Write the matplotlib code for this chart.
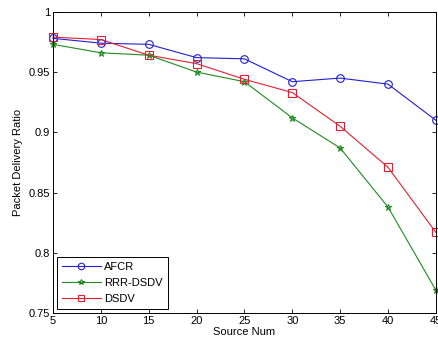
import matplotlib
matplotlib.use("Agg")
import matplotlib.pyplot as plt

plt.rcParams['font.family'] = ['Liberation Sans', 'DejaVu Sans']

source_num = [5, 10, 15, 20, 25, 30, 35, 40, 45]
afcr = [0.978, 0.974, 0.973, 0.962, 0.961, 0.942, 0.945, 0.940, 0.910]
rrr_dsdv = [0.973, 0.966, 0.964, 0.950, 0.942, 0.912, 0.887, 0.838, 0.769]
dsdv = [0.979, 0.977, 0.964, 0.957, 0.944, 0.933, 0.905, 0.871, 0.817]
xticks = [5, 10, 15, 20, 25, 30, 35, 40, 45]
yticks = [0.75, 0.8, 0.85, 0.9, 0.95, 1.0]
yticklabels = ['0.75', '0.8', '0.85', '0.9', '0.95', '1']

fig = plt.figure(figsize=(4.38, 3.43), dpi=100)
ax = fig.add_axes([0.121, 0.0875, 0.874, 0.878])

ax.plot(source_num, afcr, color='#2020d0', marker='o', markersize=5.5,
        markerfacecolor='none', linewidth=0.8, markeredgewidth=0.8, label='AFCR', clip_on=False)
ax.plot(source_num, rrr_dsdv, color='#208a20', marker='*', markersize=5,
        markerfacecolor='none', linewidth=0.8, markeredgewidth=0.8, label='RRR-DSDV', clip_on=False)
ax.plot(source_num, dsdv, color='#e02030', marker='s', markersize=5.5,
        markerfacecolor='none', linewidth=0.8, markeredgewidth=0.8, label='DSDV', clip_on=False)

ax.set_xlim(5, 45)
ax.set_ylim(0.75, 1.0)
ax.set_xticks(xticks)
ax.set_yticks(yticks)
ax.set_yticklabels(yticklabels)
ax.tick_params(direction='in', top=True, right=True, labelsize=8, length=3, width=0.6, pad=2)
for s in ax.spines.values():
    s.set_linewidth(0.7)
ax.set_xlabel('Source Num', fontsize=8, labelpad=1)
ax.set_ylabel('Packet Delivery Ratio', fontsize=8, labelpad=4)

leg = ax.legend(loc='lower left', fontsize=8, frameon=True, fancybox=False,
                edgecolor='black', framealpha=1, borderpad=0.45, handlelength=3.5,
                labelspacing=0.55, handletextpad=0.3, borderaxespad=0.35, markerscale=0.85)
leg.get_frame().set_linewidth(0.7)

fig.savefig('out.png', dpi=100)
